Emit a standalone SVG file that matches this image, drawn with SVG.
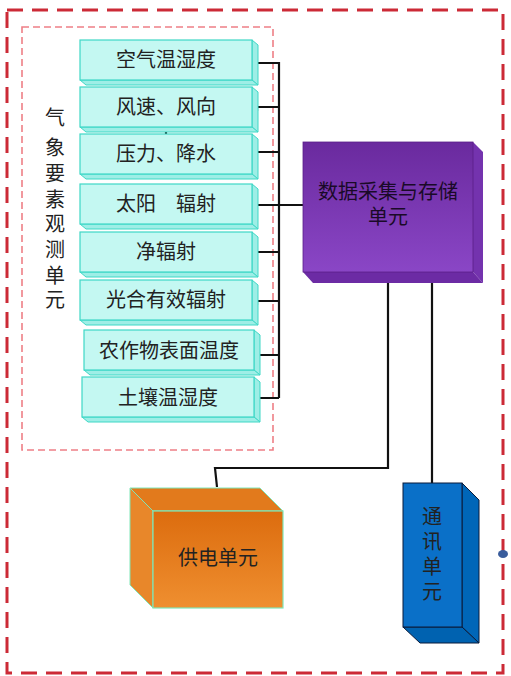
<svg xmlns="http://www.w3.org/2000/svg" width="511" height="676" viewBox="0 0 511 676">
<style>
text{font-family:"Liberation Sans","Noto Sans CJK SC",sans-serif;font-size:20px;fill:#222;text-anchor:middle}
.cf{fill:#c4f8f2;stroke:#3fd8c6;stroke-width:1.2}
.cs{fill:#9eeee6;stroke:#3fd8c6;stroke-width:1}
.wire{fill:none;stroke:#111;stroke-width:2.2}
</style>
<defs>
<linearGradient id="pg" x1="0" y1="0" x2="0" y2="1"><stop offset="0" stop-color="#6a2a9e"/><stop offset="1" stop-color="#8a46c6"/></linearGradient>
<linearGradient id="og" x1="0" y1="0" x2="0" y2="1"><stop offset="0" stop-color="#dc6c0e"/><stop offset="1" stop-color="#ef8f30"/></linearGradient>
</defs>
<rect x="7" y="10" width="496" height="663" fill="none" stroke="#cc2a36" stroke-width="3" stroke-dasharray="16 9"/>
<rect x="22" y="27" width="251" height="423" fill="none" stroke="#ee7f86" stroke-width="1.6" stroke-dasharray="7 4"/>
<ellipse cx="503" cy="554" rx="5" ry="4" fill="#3a5d9c"/>
<g id="label">
<text x="55" y="125">气</text><text x="55" y="155">象</text><text x="55" y="181">要</text><text x="55" y="207">素</text>
<text x="55" y="231">观</text><text x="55" y="257">测</text><text x="55" y="283">单</text><text x="55" y="307">元</text>
</g>
<g id="connectors">
<path class="wire" d="M258 63H279V398M257 111V107H279M258 152H279M258 205H303M258 252H279M257 305V301H279M257 359V355H279M258 398H279"/>
<path class="wire" d="M166 129V134"/>
<path class="wire" d="M388 272V468H215L217 487"/>
<path class="wire" d="M432 483V272H437"/>
</g>
<g id="n1"><polygon class="cs" points="252,40 258,45 258,85 252,80"/><polygon class="cs" points="80,80 252,80 258,85 86,85"/><rect class="cf" x="80" y="40" width="172" height="40"/><text x="166" y="67">空气温湿度</text></g>
<g id="n2"><polygon class="cs" points="252,87 258,92 258,132 252,127"/><polygon class="cs" points="80,127 252,127 258,132 86,132"/><rect class="cf" x="80" y="87" width="172" height="40"/><text x="166" y="114">风速、风向</text></g>
<g id="n3"><polygon class="cs" points="252,134 258,139 258,179 252,174"/><polygon class="cs" points="80,174 252,174 258,179 86,179"/><rect class="cf" x="80" y="134" width="172" height="40"/><text x="166" y="161">压力、降水</text></g>
<g id="n4"><polygon class="cs" points="252,184 258,189 258,229 252,224"/><polygon class="cs" points="80,224 252,224 258,229 86,229"/><rect class="cf" x="80" y="184" width="172" height="40"/><text x="166" y="211">太阳　辐射</text></g>
<g id="n5"><polygon class="cs" points="252,232 258,237 258,277 252,272"/><polygon class="cs" points="80,272 252,272 258,277 86,277"/><rect class="cf" x="80" y="232" width="172" height="40"/><text x="166" y="259">净辐射</text></g>
<g id="n6"><polygon class="cs" points="252,280 258,285 258,325 252,320"/><polygon class="cs" points="80,320 252,320 258,325 86,325"/><rect class="cf" x="80" y="280" width="172" height="40"/><text x="166" y="307">光合有效辐射</text></g>
<g id="n7"><polygon class="cs" points="254,330 260,335 260,375 254,370"/><polygon class="cs" points="84,370 254,370 260,375 90,375"/><rect class="cf" x="84" y="330" width="170" height="40"/><text x="169" y="358">农作物表面温度</text></g>
<g id="n8"><polygon class="cs" points="254,377 260,382 260,422 254,417"/><polygon class="cs" points="82,417 254,417 260,422 88,422"/><rect class="cf" x="82" y="377" width="172" height="40"/><text x="168" y="405">土壤温湿度</text></g>
<g id="data">
<polygon points="473,142 483,152 483,283 473,272" fill="#7433ae"/>
<polygon points="303,272 473,272 483,283 313,283" fill="#6c2ba4"/>
<rect x="303" y="142" width="170" height="130" fill="url(#pg)" stroke="#5a2088" stroke-width="0.8"/>
<text x="388" y="199" style="fill:#1a0a28">数据采集与存储</text>
<text x="388" y="224" style="fill:#1a0a28">单元</text>
</g>
<g id="power">
<polygon points="130,488 260,488 283,511 153,511" fill="#e27a1c" stroke="#7fe6b8" stroke-width="1"/>
<polygon points="130,488 153,511 153,608 130,585" fill="#e8872a" stroke="#7fe6b8" stroke-width="1"/>
<rect x="153" y="511" width="130" height="97" fill="url(#og)" stroke="#7fe6b8" stroke-width="1.2"/>
<text x="218" y="565">供电单元</text>
</g>
<g id="comm">
<polygon points="462,483 479,500 479,643 462,627" fill="#0066b8" stroke="#0a1a3a" stroke-width="1"/>
<polygon points="403,627 462,627 479,643 420,643" fill="#0062b0" stroke="#0a1a3a" stroke-width="1"/>
<rect x="403" y="483" width="59" height="144" fill="#0a70c8" stroke="#0a1a3a" stroke-width="1"/>
<text x="432" y="524">通</text><text x="432" y="549">讯</text><text x="432" y="574">单</text><text x="432" y="599">元</text>
</g>
</svg>
